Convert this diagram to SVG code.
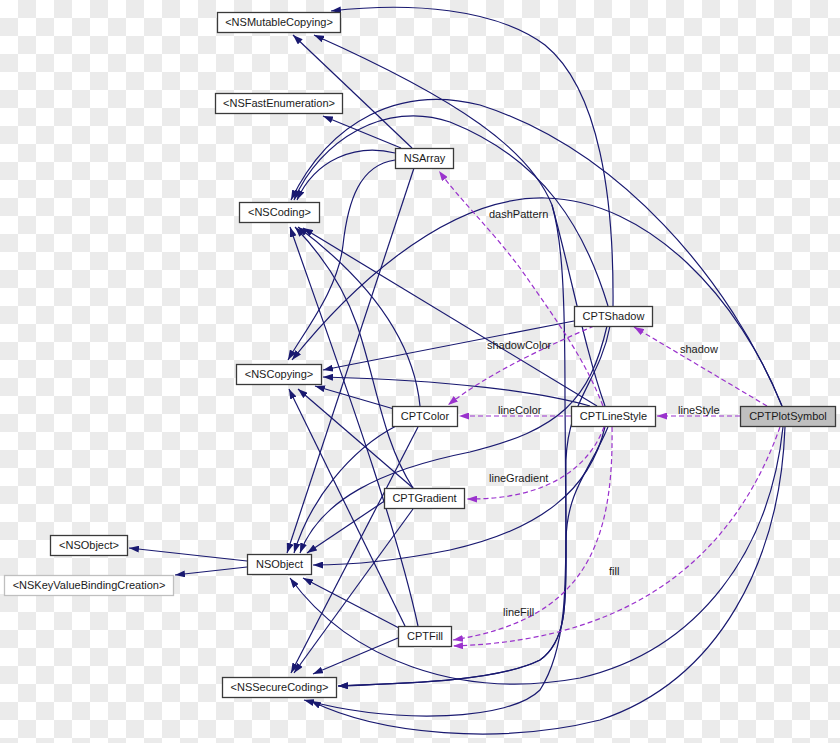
<svg xmlns="http://www.w3.org/2000/svg" width="840" height="743" viewBox="0 0 840 743">
<defs>
<pattern id="chk" width="36" height="36" patternUnits="userSpaceOnUse"><rect width="36" height="36" fill="#ffffff"/><rect x="18" width="18" height="18" fill="#ebebeb"/><rect y="18" width="18" height="18" fill="#ebebeb"/></pattern>
<marker id="ab" viewBox="0 0 10 7" refX="10" refY="3.5" markerWidth="10" markerHeight="7" markerUnits="userSpaceOnUse" orient="auto"><path d="M0,0 L10,3.5 L0,7 z" fill="#191970"/></marker>
<marker id="ap" viewBox="0 0 10 7" refX="10" refY="3.5" markerWidth="10" markerHeight="7" markerUnits="userSpaceOnUse" orient="auto"><path d="M0,0 L10,3.5 L0,7 z" fill="#9a32cd"/></marker>
</defs>
<style>
.e{fill:none;stroke:#191970;stroke-width:1.2;marker-end:url(#ab)}
.d{fill:none;stroke:#9a32cd;stroke-width:1.2;stroke-dasharray:5,3;marker-end:url(#ap)}
.n rect{fill:#ffffff;stroke:#3a3a3a;stroke-width:1.3}
.n.g rect{stroke:#bfbfbf}
.n.s rect{fill:#bfbfbf}
text{font-family:"Liberation Sans",Arial,sans-serif;font-size:11px;fill:#1a1a1a}
.n text{text-anchor:middle}
</style>
<rect width="840" height="743" fill="url(#chk)"/>
<g id="connectors">
<path class="e" d="M613,306 C614,200 600,90 545,45 C495,8 410,2 331,11"/>
<path class="e" d="M412,148 L293,35"/>
<path class="e" d="M605,406 C585,350 570,270 552,205 C530,150 460,100 314,35"/>
<path class="e" d="M401,148 L323,116"/>
<path class="e" d="M782,406 C730,280 620,150 480,105 C400,85 330,120 291,200"/>
<path class="e" d="M608,306 C585,230 545,160 450,122 C385,100 320,140 294,200"/>
<path class="e" d="M395,153 C355,143 315,160 297,200"/>
<path class="e" d="M395,160 C360,165 348,200 343,245 C338,290 305,330 288,360"/>
<path class="e" d="M782,406 C740,300 650,200 545,198 C440,196 340,300 292,360"/>
<path class="e" d="M597,406 L303,228"/>
<path class="e" d="M420,406 C414,345 375,285 298,227"/>
<path class="e" d="M413,488 C382,440 376,380 357,325 C343,285 322,255 295,227"/>
<path class="e" d="M418,626 C395,520 340,370 290,227"/>
<path class="e" d="M574,321 L323,370"/>
<path class="e" d="M590,406 C540,392 450,380 323,377"/>
<path class="e" d="M394,409 L315,386"/>
<path class="e" d="M413,488 L298,389"/>
<path class="e" d="M405,626 L289,389"/>
<path class="e" d="M414,168 L287,553"/>
<path class="e" d="M396,426 C350,450 310,500 294,553"/>
<path class="e" d="M607,326 C590,400 560,430 470,452 C380,470 320,500 300,553"/>
<path class="e" d="M386,500 L307,553"/>
<path class="e" d="M605,427 C590,490 540,530 450,550 C400,560 350,565 313,565"/>
<path class="e" d="M399,628 L303,578"/>
<path class="e" d="M783,427 C770,550 700,650 580,678 C460,700 350,660 290,578"/>
<path class="e" d="M247,561 L129,548"/>
<path class="e" d="M247,567 L175,575"/>
<path class="e" d="M398,638 L313,674"/>
<path class="e" d="M418,427 L291,673"/>
<path class="e" d="M413,509 L294,673"/>
<path class="e" d="M608,427 C590,470 567,490 566,540 C566,600 568,640 540,660 C500,680 420,683 338,686"/>
<path class="e" d="M552,205 C562,240 565,290 565,400 L566,540 C566,600 568,640 540,660 C500,680 420,683 338,686"/>
<path class="e" d="M610,326 C600,380 568,400 566,460 C565,560 572,640 540,690 C510,720 400,725 304,700"/>
<path class="e" d="M785,427 C780,560 720,680 600,720 C500,745 380,735 311,701"/>
<path class="d" d="M603,406 C585,360 560,325 520,268 C490,228 460,200 439,171"/>
<path class="d" d="M594,326 C550,345 490,372 448,405"/>
<path class="d" d="M571,416 L459,416"/>
<path class="d" d="M604,427 C590,465 550,500 467,499"/>
<path class="d" d="M612,427 C614,550 580,620 453,640"/>
<path class="d" d="M780,427 C740,540 650,640 453,646"/>
<path class="d" d="M767,406 L634,327"/>
<path class="d" d="M740,416 L657,416"/>
<text x="489" y="218">dashPattern</text>
<text x="487" y="349">shadowColor</text>
<text x="498" y="414">lineColor</text>
<text x="489" y="482">lineGradient</text>
<text x="503" y="616">lineFill</text>
<text x="609" y="575">fill</text>
<text x="680" y="353">shadow</text>
<text x="678" y="414">lineStyle</text>
</g>
<g id="NSMutableCopying" class="n"><rect x="217.5" y="12.5" width="123" height="20"/><text x="279" y="26">&lt;NSMutableCopying&gt;</text></g>
<g id="NSFastEnumeration" class="n"><rect x="215.5" y="93.5" width="127" height="20"/><text x="279" y="107">&lt;NSFastEnumeration&gt;</text></g>
<g id="NSArray" class="n"><rect x="395.5" y="148.5" width="58" height="20"/><text x="424.5" y="162">NSArray</text></g>
<g id="NSCoding" class="n"><rect x="239.5" y="202.5" width="80" height="20"/><text x="279.5" y="216">&lt;NSCoding&gt;</text></g>
<g id="CPTShadow" class="n"><rect x="574.5" y="306.5" width="78" height="20"/><text x="613.5" y="320">CPTShadow</text></g>
<g id="NSCopying" class="n"><rect x="236.5" y="364.5" width="85" height="20"/><text x="279" y="378">&lt;NSCopying&gt;</text></g>
<g id="CPTColor" class="n"><rect x="392.5" y="406.5" width="65" height="20"/><text x="425" y="420">CPTColor</text></g>
<g id="CPTLineStyle" class="n"><rect x="571.5" y="406.5" width="84" height="20"/><text x="613.5" y="420">CPTLineStyle</text></g>
<g id="CPTPlotSymbol" class="n s"><rect x="740.5" y="406.5" width="95" height="20"/><text x="788" y="420">CPTPlotSymbol</text></g>
<g id="CPTGradient" class="n"><rect x="384.5" y="488.5" width="80" height="20"/><text x="424.5" y="502">CPTGradient</text></g>
<g id="NSObjectProtocol" class="n"><rect x="50.5" y="535.5" width="77" height="20"/><text x="89" y="549">&lt;NSObject&gt;</text></g>
<g id="NSObject" class="n"><rect x="247.5" y="554.5" width="64" height="20"/><text x="279.5" y="568">NSObject</text></g>
<g id="NSKeyValueBindingCreation" class="n g"><rect x="4.5" y="575.5" width="169" height="20"/><text x="89" y="589">&lt;NSKeyValueBindingCreation&gt;</text></g>
<g id="CPTFill" class="n"><rect x="398.5" y="626.5" width="53" height="20"/><text x="425" y="640">CPTFill</text></g>
<g id="NSSecureCoding" class="n"><rect x="222.5" y="677.5" width="114" height="20"/><text x="279.5" y="691">&lt;NSSecureCoding&gt;</text></g>
</svg>
